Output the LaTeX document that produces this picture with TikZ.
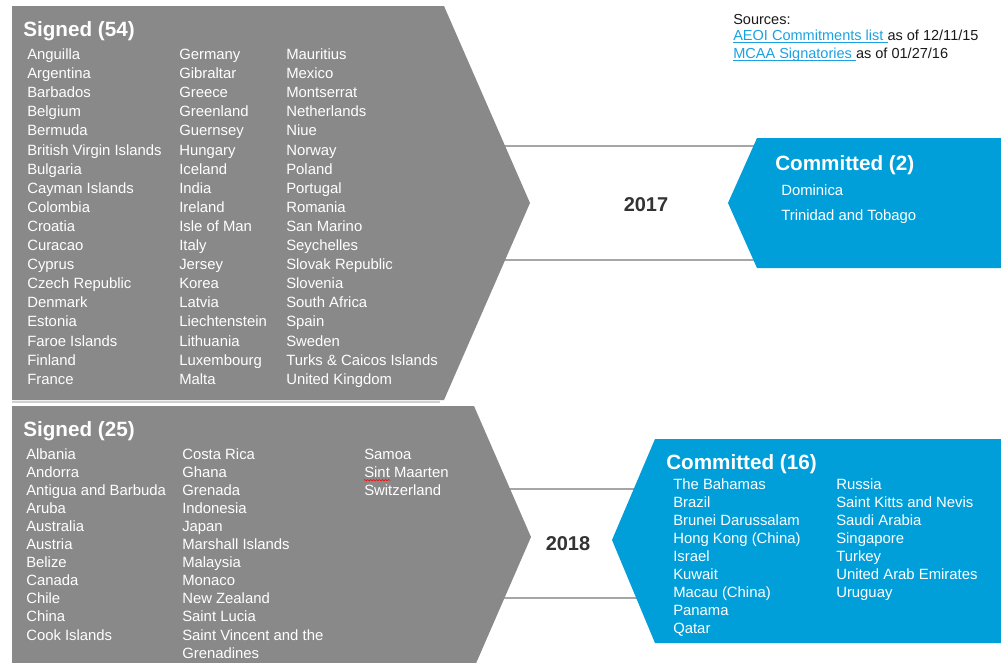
\documentclass[tikz,border=0pt]{standalone}
\usepackage{fontspec}
\setmainfont{Liberation Sans}
\usetikzlibrary{decorations.pathmorphing}

\definecolor{signedgray}{HTML}{898989}
\definecolor{commitblue}{HTML}{009FDA}
\definecolor{linegray}{HTML}{A6A6A6}
\definecolor{sepgray}{HTML}{D0D0D0}
\definecolor{linkblue}{HTML}{1BA1E2}
\definecolor{yeargray}{HTML}{333333}

% underlined link text, the rule running under a trailing space too
\newcommand\linkul[1]{\setbox0\hbox{#1}\rlap{\rule[-1.3pt]{\wd0}{0.6pt}}\box0}

\tikzset{
  country/.style={anchor=base west, inner sep=0pt, text=white, font=\fontsize{11.15}{13}\selectfont},
  heading/.style={anchor=base west, inner sep=0pt, text=white, font=\fontsize{15.5}{18}\selectfont\bfseries},
  yearlabel/.style={anchor=base, inner sep=0pt, text=yeargray, font=\fontsize{15}{18}\selectfont\bfseries},
  srcline/.style={anchor=base west, inner sep=0pt, text=black!90, font=\fontsize{10.9}{13}\selectfont},
  timeline/.style={draw=linegray, line width=1.5pt},
}

\begin{document}
\begin{tikzpicture}[x=0.75pt, y=-0.75pt]
\useasboundingbox (0,0) rectangle (1001,662);

% Row baselines, in pixels from the top
\def\topfirst{59.5}
\def\topstep{19.1}
\def\botfirst{459.5}
\def\botstep{18.05}
\def\comfirst{489}
\def\comstep{18}

% Year lines - drawn first so the shapes cover their ends
\coordinate (l17a) at (500,146);
\coordinate (r17a) at (760,146);
\coordinate (l17b) at (500,260);
\coordinate (r17b) at (760,260);
\coordinate (l18a) at (495,489);
\coordinate (r18a) at (640,489);
\coordinate (l18b) at (495,598);
\coordinate (r18b) at (640,598);
\draw[timeline] (l17a) -- (r17a);
\draw[timeline] (l17b) -- (r17b);
\draw[timeline] (l18a) -- (r18a);
\draw[timeline] (l18b) -- (r18b);

% Shapes
\fill[signedgray] (12,6) -- (444,6) -- (530,203) -- (444,400) -- (12,400) -- cycle;
\fill[sepgray] (12,401) rectangle (440,402.5);
\fill[signedgray] (12,406) -- (474,406) -- (531,537) -- (474,668) -- (12,668) -- cycle;
\fill[commitblue] (757,138) -- (1001,138) -- (1001,268) -- (757,268) -- (728,203) -- cycle;
\fill[commitblue] (655,439) -- (1001,439) -- (1001,643) -- (655,643) -- (612,540) -- cycle;

% Years
\node[yearlabel] (y2017) at (646,211) {2017};
\node[yearlabel] (y2018) at (568,550) {2018};

% Sources
\node[srcline] (src) at (733,24) {Sources:};
\node[srcline] (aeoi) at (733,40.7) {\textcolor{linkblue}{\linkul{AEOI Commitments list\ }}as of 12/11/15};
\node[srcline] (mcaa) at (733,58.7) {\textcolor{linkblue}{\linkul{MCAA Signatories\ }}as of 01/27/16};

% 2017 - signed
\node[heading] (sig54) at (23,36) {Signed (54)};
\foreach \cname [count=\i] in {Anguilla, Argentina, Barbados, Belgium, Bermuda,
  British Virgin Islands, Bulgaria, Cayman Islands, Colombia, Croatia, Curacao,
  Cyprus, Czech Republic, Denmark, Estonia, Faroe Islands, Finland, France}
  \node[country] (sa\i) at (27, {\topfirst+\topstep*(\i-1)}) {\cname};
\foreach \cname [count=\i] in {Germany, Gibraltar, Greece, Greenland, Guernsey,
  Hungary, Iceland, India, Ireland, Isle of Man, Italy, Jersey, Korea, Latvia,
  Liechtenstein, Lithuania, Luxembourg, Malta}
  \node[country] (sb\i) at (179, {\topfirst+\topstep*(\i-1)}) {\cname};
\foreach \cname [count=\i] in {Mauritius, Mexico, Montserrat, Netherlands, Niue,
  Norway, Poland, Portugal, Romania, San Marino, Seychelles, Slovak Republic,
  Slovenia, South Africa, Spain, Sweden, Turks \& Caicos Islands, United Kingdom}
  \node[country] (sc\i) at (286, {\topfirst+\topstep*(\i-1)}) {\cname};

% 2017 - committed
\node[heading] (com2) at (775,170) {Committed (2)};
\node[country] (dom) at (781,195) {Dominica};
\node[country] (tri) at (781,220.5) {Trinidad and Tobago};

% 2018 - signed
\node[heading] (sig25) at (23,436.5) {Signed (25)};
\foreach \cname [count=\i] in {Albania, Andorra, Antigua and Barbuda, Aruba,
  Australia, Austria, Belize, Canada, Chile, China, Cook Islands}
  \node[country] (ta\i) at (26, {\botfirst+\botstep*(\i-1)}) {\cname};
\foreach \cname [count=\i] in {Costa Rica, Ghana, Grenada, Indonesia, Japan,
  Marshall Islands, Malaysia, Monaco, New Zealand, Saint Lucia,
  Saint Vincent and the, Grenadines}
  \node[country] (tb\i) at (182, {\botfirst+\botstep*(\i-1)}) {\cname};
\foreach \cname [count=\i] in {Samoa, Sint Maarten, Switzerland}
  \node[country] (tc\i) at (364, {\botfirst+\botstep*(\i-1)}) {\cname};
\draw[red, decorate, decoration={snake, amplitude=0.5pt, segment length=2.2pt}]
  ([yshift=-2pt]tc2.base west) -- ++(20pt,0);

% 2018 - committed
\node[heading] (com16) at (666,469) {Committed (16)};
\foreach \cname [count=\i] in {The Bahamas, Brazil, Brunei Darussalam,
  Hong Kong (China), Israel, Kuwait, Macau (China), Panama, Qatar}
  \node[country] (ca\i) at (673, {\comfirst+\comstep*(\i-1)}) {\cname};
\foreach \cname [count=\i] in {Russia, Saint Kitts and Nevis, Saudi Arabia,
  Singapore, Turkey, United Arab Emirates, Uruguay}
  \node[country] (cb\i) at (836, {\comfirst+\comstep*(\i-1)}) {\cname};

\end{tikzpicture}
\end{document}
